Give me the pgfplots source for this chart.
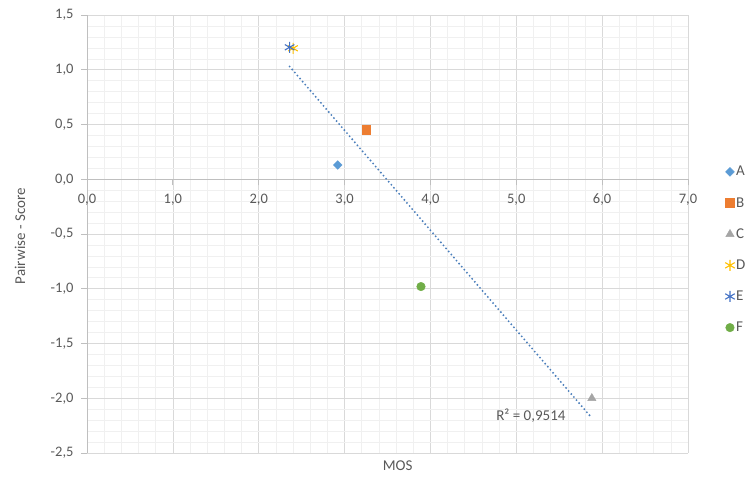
\documentclass[border=0pt]{standalone}
\usepackage{fontspec}
\setmainfont{Carlito}
\usepackage{pgfplots}
\pgfplotsset{compat=1.18}
\definecolor{txt}{HTML}{595959}
\definecolor{gmaj}{HTML}{D9D9D9}
\definecolor{gmin}{HTML}{F0F0F0}
\definecolor{axl}{HTML}{BFBFBF}
\definecolor{cA}{HTML}{5B9BD5}
\definecolor{cB}{HTML}{ED7D31}
\definecolor{cC}{HTML}{A5A5A5}
\definecolor{cD}{HTML}{FFC000}
\definecolor{cE}{HTML}{4472C4}
\definecolor{cF}{HTML}{70AD47}
\definecolor{trend}{HTML}{4A7EBB}
\begin{document}
\begin{tikzpicture}[x=1pt,y=1pt]
\path[use as bounding box] (0,0) rectangle (753,479);
\begin{axis}[
  at={(87pt,26pt)}, anchor=south west,
  width=601pt, height=438pt, scale only axis,
  xmin=0, xmax=7, ymin=-2.5, ymax=1.5,
  axis x line*=middle, axis y line*=left,
  hide obscured x ticks=false, hide obscured y ticks=false,
  axis line style={color=axl, line width=0.8pt},
  xtick={0,1,...,7}, ytick={-2.5,-2,...,1.5},
  minor x tick num=4, minor y tick num=4,
  grid=both,
  major grid style={color=gmaj, line width=0.7pt},
  minor grid style={color=gmin, line width=0.6pt},
  tick align=outside, major tick length=6pt, minor tick length=0pt,
  tick style={color=axl, line width=0.8pt},
  ticklabel style={font=\fontsize{14.5}{16}\selectfont, color=txt},
  xticklabel style={yshift=-5pt},
  yticklabel style={xshift=-4pt},
  /pgf/number format/.cd, fixed, fixed zerofill, precision=1, use comma, assume math mode=true,
  /pgfplots/.cd,
  xlabel={MOS},
  xlabel style={at={(rel axis cs:0.517,0)}, anchor=center, yshift=-13pt, font=\fontsize{15}{17}\selectfont, color=txt},
  ylabel={Pairwise - Score},
  ylabel style={at={(rel axis cs:0,0.495)}, anchor=center, yshift=67pt, font=\fontsize{15}{17}\selectfont, color=txt},
  legend style={at={(rel axis cs:1.0749,0.663)}, anchor=north west, xshift=-11pt,
    draw=none, fill=none, font=\fontsize{15}{17}\selectfont, text=txt, row sep=17pt,
    nodes={inner sep=1.5pt}},
  legend cell align=left,
]
\addplot[only marks, mark=square*, mark size=3.1pt, mark options={rotate=45}, color=cA] coordinates {(2.92,0.13)};
\addlegendentry{A}
\addplot[only marks, mark=square*, mark size=4.3pt, color=cB] coordinates {(3.25,0.45)};
\addlegendentry{B}
\addplot[only marks, mark=triangle*, mark size=4.8pt, color=cC] coordinates {(5.88,-2.0)};
\addlegendentry{C}
\addplot[only marks, mark=asterisk, mark size=5.5pt, mark options={line width=1.1pt}, color=cD] coordinates {(2.40,1.196)};
\addlegendentry{D}
\addplot[only marks, mark=asterisk, mark size=5.5pt, mark options={line width=1.1pt}, color=cE] coordinates {(2.36,1.205)};
\addlegendentry{E}
\addplot[only marks, mark=*, mark size=4.3pt, color=cF] coordinates {(3.89,-0.98)};
\addlegendentry{F}
\addplot[color=trend, line width=2.1pt, line cap=round, dash pattern=on 0pt off 4pt, forget plot] coordinates {(2.36,1.03) (5.88,-2.18)};
\node[font=\fontsize{15}{17}\selectfont, color=txt] at (axis cs:5.17,-2.155) {R² = 0,9514};
\end{axis}
\end{tikzpicture}
\end{document}
